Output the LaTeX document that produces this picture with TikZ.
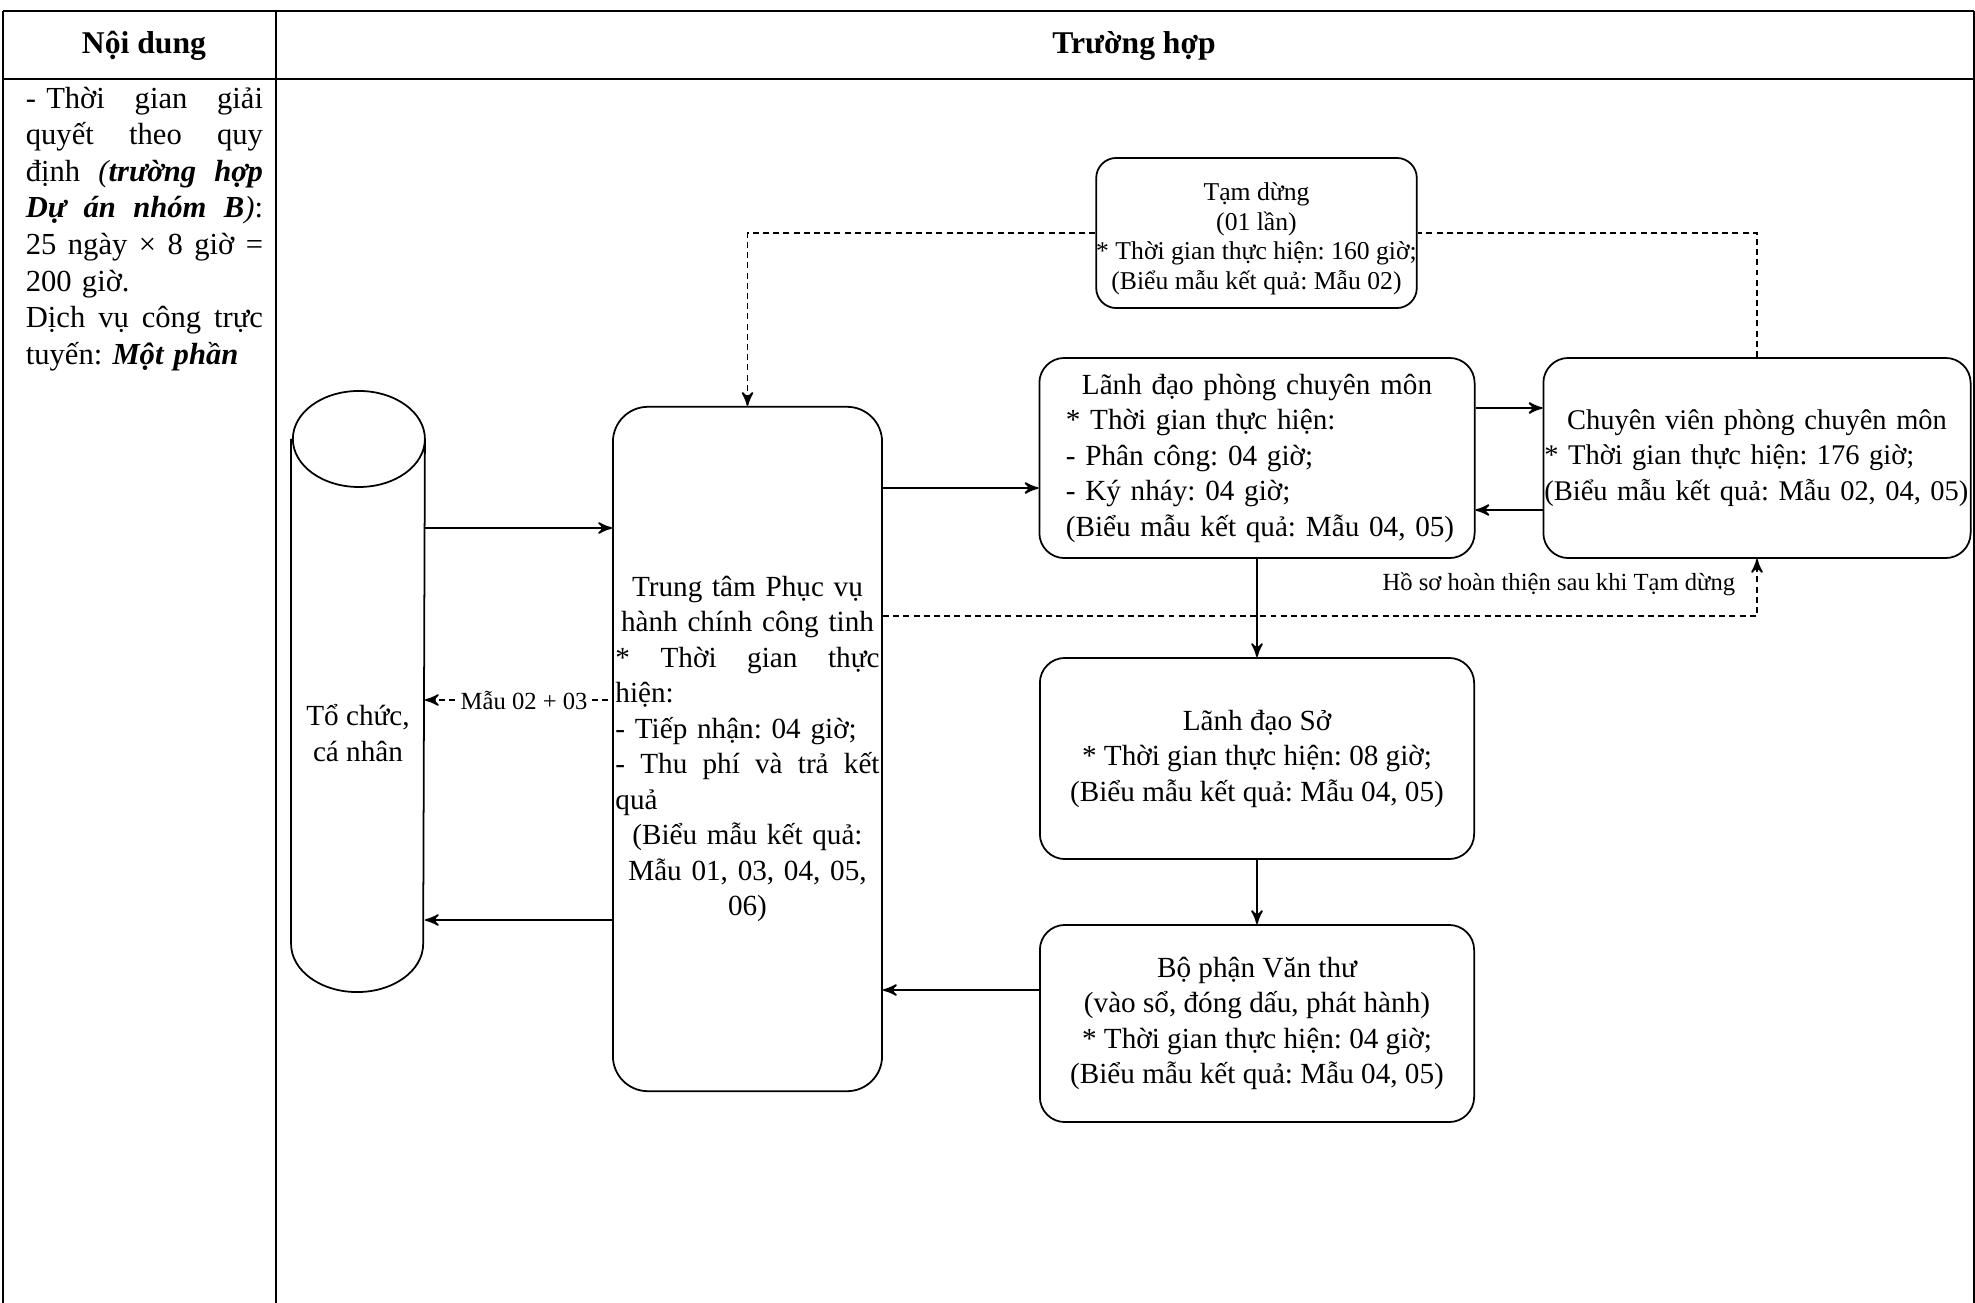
\documentclass[tikz,border=0pt]{standalone}
\usepackage{fontspec}
\setmainfont{Liberation Serif}
\usepackage{tikz}
\usetikzlibrary{arrows}
\newcommand{\cellfont}{\fontsize{8.7}{10.4}\selectfont}
\newcommand{\procfont}{\fontsize{8.3}{10.1}\selectfont}
\newcommand{\pausefont}{\fontsize{7.3}{8.5}\selectfont}
\newcommand{\lblfont}{\fontsize{7}{8}\selectfont}
\newcommand{\lline}[1]{\makebox[\linewidth][l]{#1}}

\begin{document}
\frenchspacing
\begin{tikzpicture}[>=stealth', x=0.01cm, y=-0.01cm, line width=0.5pt,
	grid/.style={line width=0.7pt},
	procbox/.style={rectangle,rounded corners=0.25cm,draw=black,inner sep=0pt,font=\procfont},
	pausebox/.style={rectangle,rounded corners=0.2cm,draw=black,inner sep=0pt,align=center,font=\pausefont},
	back/.style={dash pattern=on 1.7pt off 1.2pt},
	edgelbl/.style={font=\lblfont,inner sep=1pt}]
	\useasboundingbox (0,0) rectangle (1975,1303);
	% table frame
	\draw[grid] (3,11) -- (1974,11);
	\draw[grid] (3,79) -- (1974,79);
	\draw[grid] (3,11) -- (3,1303);
	\draw[grid] (276,11) -- (276,1303);
	\draw[grid] (1974,11) -- (1974,1303);
	\node[font=\fontsize{9}{10}\selectfont\bfseries] (hnd) at (144,46) {Nội dung};
	\node[font=\fontsize{9}{10}\selectfont\bfseries] (htr) at (1134,46) {Trường hợp};
	\node[anchor=north west,inner sep=0pt,text width=2.37cm,align=left,font=\cellfont] (noidung) at (25,86) {%
		\lline{- Thời \hfill gian \hfill giải}\\
		\lline{quyết \hfill theo \hfill quy}\\
		\lline{định \hfill \textit{(\textbf{trường \hfill hợp}}}\\
		\lline{\textbf{\textit{Dự \hfill án \hfill nhóm \hfill B}}\textit{)}:}\\
		\lline{25 \hfill ngày \hfill × \hfill 8 \hfill giờ \hfill =}\\
		200 giờ.\\
		\lline{Dịch \hfill vụ \hfill công \hfill trực}\\
		tuyến: \textbf{\textit{Một phần}}};
	% cylinder
	\node[minimum width=1.32cm,minimum height=5.99cm,inner sep=0pt] (tc) at (358,691.5) {};
	\draw ([yshift=-0.48cm]tc.north west) -- ([yshift=0.48cm]tc.south west)
		arc[start angle=180,end angle=360,x radius=0.66cm,y radius=0.48cm]
		-- ([yshift=-0.48cm]tc.north east)
		arc[start angle=0,end angle=180,x radius=0.66cm,y radius=0.48cm]
		arc[start angle=180,end angle=360,x radius=0.66cm,y radius=0.48cm];
	\node[font=\procfont,align=center] (tcname) at (358,733) {Tổ chức,\\ cá nhân};
	% boxes
	\node[procbox,rounded corners=0.35cm,minimum width=2.69cm,minimum height=6.84cm,text width=2.64cm,align=left] (tt) at (747.5,749) {%
		\makebox[\linewidth]{Trung tâm Phục vụ}\\
		\makebox[\linewidth]{hành chính công tinh}\\
		\lline{* \hfill Thời \hfill gian \hfill thực}\\
		\lline{hiện:}\\
		\lline{- Tiếp nhận: 04 giờ;}\\
		\lline{- \hfill Thu \hfill phí \hfill và \hfill trả \hfill kết}\\
		\lline{quả}\\
		\makebox[\linewidth]{(Biểu mẫu kết quả:}\\
		\makebox[\linewidth]{Mẫu 01, 03, 04, 05,}\\
		\makebox[\linewidth]{06)}};
	\node[pausebox,minimum width=3.17cm,minimum height=1.5cm] (pause) at (1256.5,233) {\rule{0pt}{8.4pt}Tạm dừng\\ (01 lần)\\{}* Thời gian thực hiện: 160 giờ;\\ (Biểu mẫu kết quả: Mẫu 02)};
	\node[procbox,minimum width=4.35cm,minimum height=2cm,text width=3.82cm,align=left] (ldp) at (1257,458) {%
		\makebox[\linewidth]{Lãnh đạo phòng chuyên môn}\\
		\lline{* Thời gian thực hiện:}\\
		\lline{- Phân công: 04 giờ;}\\
		\lline{- Ký nháy: 04 giờ;}\\
		\lline{(Biểu mẫu kết quả: Mẫu 04, 05)}};
	\node[procbox,font=\fontsize{8.1}{10.1}\selectfont,minimum width=4.27cm,minimum height=2cm,text width=4.25cm,align=left] (cv) at (1757,458) {%
		\makebox[\linewidth]{Chuyên viên phòng chuyên môn}\\
		\lline{* Thời gian thực hiện: 176 giờ;}\\
		\lline{(Biểu mẫu kết quả: Mẫu 02, 04, 05)}};
	\node[procbox,minimum width=4.34cm,minimum height=2.01cm,align=center] (lds) at (1257,758.5) {Lãnh đạo Sở\\{}* Thời gian thực hiện: 08 giờ;\\ (Biểu mẫu kết quả: Mẫu 04, 05)};
	\node[procbox,minimum width=4.34cm,minimum height=1.97cm,align=center] (vt) at (1257,1023.5) {Bộ phận Văn thư\\ (vào sổ, đóng dấu, phát hành)\\{}* Thời gian thực hiện: 04 giờ;\\ (Biểu mẫu kết quả: Mẫu 04, 05)};
	% connectors
	\draw[->] (tc.east |- 0,528) -- (tt.west |- 0,528);
	\draw[back,<-] (tc.east |- 0,700) -- node[edgelbl,fill=white,pos=0.53] {Mẫu 02 + 03} (tt.west |- 0,700);
	\draw[->] (tt.west |- 0,920) -- (tc.east |- 0,920);
	\draw[->] (tt.east |- 0,488) -- (ldp.west |- 0,488);
	\draw[->] (ldp.east |- 0,408) -- (cv.west |- 0,408);
	\draw[->] (cv.west |- 0,510) -- (ldp.east |- 0,510);
	\draw[->] (ldp) -- (lds);
	\draw[->] (lds) -- (vt);
	\draw[->] (vt.west |- 0,990) -- (tt.east |- 0,990);
	\draw[back] (cv.north) |- (pause.east);
	\draw[back,->] (pause.west) -| (tt.north);
	\draw[back,->] (tt.east |- 0,616) -| node[edgelbl,pos=0.5,anchor=east,inner sep=0pt,xshift=-0.21cm,yshift=0.32cm] {Hồ sơ hoàn thiện sau khi Tạm dừng} (cv.south);
\end{tikzpicture}
\end{document}
